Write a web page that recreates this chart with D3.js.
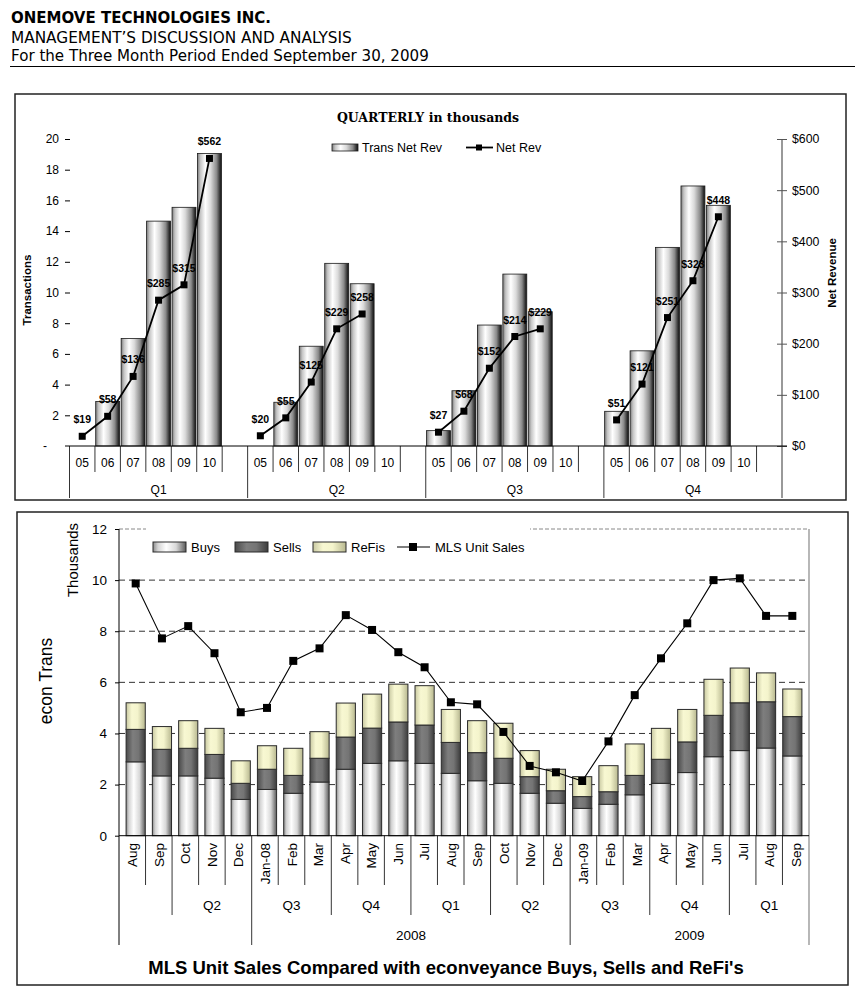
<!DOCTYPE html>
<html>
<head>
<meta charset="utf-8">
<script src="https://cdn.jsdelivr.net/npm/d3@7"></script>
<style>
  body { margin: 0; background: #fff; }
  text { font-family: 'Liberation Sans', Arial, sans-serif; }
</style>
</head>
<body>
<script>
// ---- top chart: quarterly, in thousands ----
const quarters = ['Q1', 'Q2', 'Q3', 'Q4'];
const periods = ['05', '06', '07', '08', '09', '10', ''];
const transByQuarter = [
    [0, 2.9, 7.0, 14.65, 15.55, 19.05, null],
    [0, 2.85, 6.5, 11.9, 10.57, null, null],
    [1.0, 3.6, 7.88, 11.2, 8.75, null, null],
    [2.26, 6.2, 12.94, 16.94, 15.68, null, null]
];
const revByQuarter = [
    [19, 58, 136, 285, 315, 562, null],
    [20, 55, 125, 229, 258, null, null],
    [27, 68, 152, 214, 229, null, null],
    [51, 121, 251, 323, 448, null, null]
];
const transTicks = [0, 2, 4, 6, 8, 10, 12, 14, 16, 18, 20];
const revTicks = [0, 100, 200, 300, 400, 500, 600];

// ---- bottom chart: monthly, thousands ----
const months = ['Aug', 'Sep', 'Oct', 'Nov', 'Dec', 'Jan-08', 'Feb', 'Mar', 'Apr', 'May', 'Jun', 'Jul',
    'Aug', 'Sep', 'Oct', 'Nov', 'Dec', 'Jan-09', 'Feb', 'Mar', 'Apr', 'May', 'Jun', 'Jul', 'Aug', 'Sep'];
const buys = [2.89, 2.34, 2.34, 2.25, 1.42, 1.81, 1.66, 2.10, 2.60, 2.83, 2.93, 2.83,
    2.44, 2.15, 2.05, 1.66, 1.27, 1.07, 1.23, 1.60, 2.05, 2.47, 3.09, 3.33, 3.43, 3.12];
const sells = [1.27, 1.04, 1.08, 0.93, 0.63, 0.79, 0.70, 0.93, 1.26, 1.38, 1.52, 1.50,
    1.21, 1.10, 0.98, 0.65, 0.49, 0.46, 0.49, 0.76, 0.94, 1.20, 1.62, 1.87, 1.81, 1.54];
const refis = [1.04, 0.89, 1.08, 1.02, 0.88, 0.92, 1.06, 1.04, 1.33, 1.33, 1.48, 1.54,
    1.29, 1.25, 1.37, 1.02, 0.84, 0.78, 1.02, 1.23, 1.21, 1.27, 1.41, 1.36, 1.13, 1.08];
const mlsSales = [9.87, 7.72, 8.2, 7.14, 4.83, 5.0, 6.84, 7.33, 8.63, 8.05, 7.18, 6.59,
    5.22, 5.14, 4.06, 2.73, 2.48, 2.14, 3.69, 5.5, 6.94, 8.31, 10.0, 10.07, 8.6, 8.6];
const quarterGroups = [['', 2], ['Q2', 3], ['Q3', 3], ['Q4', 3], ['Q1', 3], ['Q2', 3], ['Q3', 3], ['Q4', 3], ['Q1', 3]];
const yearGroups = [['', 5], ['2008', 12], ['2009', 9]];
const monthTicks = [0, 2, 4, 6, 8, 10, 12];

const svg = d3.select('body').append('svg')
    .attr('width', 863)
    .attr('height', 999);

const defs = svg.append('defs');

function gradient(id, stops) {
    let g = defs.append('linearGradient').attr('id', id)
        .attr('x1', 0).attr('x2', 1).attr('y1', 0).attr('y2', 0);
    stops.forEach(s => g.append('stop').attr('offset', s[0]).attr('stop-color', s[1]));
}

gradient('cyl', [[0, '#7a7a7a'], [0.12, '#c4c4c4'], [0.33, '#ffffff'], [0.55, '#dadada'],
    [0.8, '#8a8a8a'], [0.95, '#2a2a2a'], [1, '#1a1a1a']]);
gradient('buys', [[0, '#8c8c8c'], [0.15, '#d4d4d4'], [0.4, '#ffffff'], [0.7, '#d8d8d8'], [1, '#5a5a5a']]);
gradient('sells', [[0, '#4a4a4a'], [0.35, '#7e7e7e'], [0.65, '#747474'], [1, '#3c3c3c']]);
gradient('refis', [[0, '#c9c9a2'], [0.3, '#f8f8d2'], [0.6, '#f4f4cc'], [1, '#b8b890']]);

// ---- header ----
const verdana = "'DejaVu Sans', Verdana, sans-serif";
const head = svg.append('g');
head.append('text').attr('x', 11).attr('y', 23).attr('font-size', 15).attr('font-weight', 'bold')
    .style('font-family', verdana).text('ONEMOVE TECHNOLOGIES INC.');
head.append('text').attr('x', 11).attr('y', 43).attr('font-size', 15.3)
    .style('font-family', verdana).text('MANAGEMENT\u2019S DISCUSSION AND ANALYSIS');
head.append('text').attr('x', 11).attr('y', 61).attr('font-size', 15.1)
    .style('font-family', verdana).text('For the Three Month Period Ended September 30, 2009');
head.append('line').attr('x1', 10).attr('x2', 855).attr('y1', 66.5).attr('y2', 66.5)
    .attr('stroke', '#000').attr('stroke-width', 1.2);

// panel frames
svg.append('rect').attr('x', 15).attr('y', 94).attr('width', 831).attr('height', 406)
    .attr('fill', 'none').attr('stroke', '#222').attr('stroke-width', 1.5);
svg.append('rect').attr('x', 17).attr('y', 512).attr('width', 831).attr('height', 473)
    .attr('fill', 'none').attr('stroke', '#222').attr('stroke-width', 1.5);

// =============== top chart ===============
let topData = [];
quarters.forEach((q, qi) => periods.forEach((p, pi) => {
    topData.push({ key: q + p + pi, q: q, p: p, trans: transByQuarter[qi][pi], rev: revByQuarter[qi][pi] });
}));

const xT = d3.scaleBand().domain(topData.map(d => d.key)).range([69.5, 782]).paddingInner(0.06).paddingOuter(0.03);
const yT = d3.scaleLinear().domain([0, 20]).range([446, 139]);
const yR = d3.scaleLinear().domain([0, 600]).range([446, 139]);
const slot = (782 - 69.5) / topData.length;
const slotX = i => 69.5 + i * slot;

const topG = svg.append('g');

topG.selectAll('rect.bar')
    .data(topData.filter(d => d.trans))
    .enter().append('rect')
    .attr('class', 'bar')
    .attr('x', d => xT(d.key))
    .attr('y', d => yT(d.trans))
    .attr('width', xT.bandwidth())
    .attr('height', d => yT(0) - yT(d.trans))
    .attr('fill', 'url(#cyl)')
    .attr('stroke', '#1a1a1a')
    .attr('stroke-width', 0.8);

// revenue line, one segment per quarter
const revLine = d3.line()
    .x(d => xT(d.key) + xT.bandwidth() / 2)
    .y(d => yR(d.rev));
quarters.forEach(q => {
    let pts = topData.filter(d => d.q == q && d.rev != null);
    topG.append('path').attr('d', revLine(pts))
        .attr('fill', 'none').attr('stroke', '#000').attr('stroke-width', 1.8);
});
let revPts = topData.filter(d => d.rev != null);
topG.selectAll('rect.mk')
    .data(revPts)
    .enter().append('rect')
    .attr('class', 'mk')
    .attr('x', d => xT(d.key) + xT.bandwidth() / 2 - 3.5)
    .attr('y', d => yR(d.rev) - 3.5)
    .attr('width', 7).attr('height', 7)
    .attr('fill', '#000');
topG.selectAll('text.lbl')
    .data(revPts)
    .enter().append('text')
    .attr('class', 'lbl')
    .attr('x', d => xT(d.key) + xT.bandwidth() / 2)
    .attr('y', d => yR(d.rev) - 13)
    .attr('text-anchor', 'middle')
    .attr('font-size', 10.5)
    .attr('font-weight', 'bold')
    .text(d => '$' + d.rev);

// left axis
const axL = topG.append('g').attr('transform', 'translate(70,0)')
    .call(d3.axisLeft(yT).tickValues(transTicks).tickSize(5).tickPadding(6)
        .tickFormat(d => d == 0 ? '-' : d));
axL.select('.domain').remove();
axL.selectAll('text').attr('font-size', 12).attr('fill', '#000')
    .style('font-family', "'Liberation Sans', Arial, sans-serif")
    .attr('dx', d => d == 0 ? -12 : 0);
axL.selectAll('.tick line').filter(d => d == 0).remove();

// right axis
const axR = topG.append('g').attr('transform', 'translate(782,0)')
    .call(d3.axisRight(yR).tickValues(revTicks).tickSize(5).tickPadding(5).tickFormat(d => '$' + d));
axR.select('.domain').remove();
axR.selectAll('.tick line').attr('x1', -5).attr('stroke', '#555');
axR.selectAll('text').attr('font-size', 12.3).attr('fill', '#000')
    .style('font-family', "'Liberation Sans', Arial, sans-serif");
topG.append('line').attr('x1', 782).attr('x2', 782).attr('y1', yR(600)).attr('y2', 498)
    .attr('stroke', '#555').attr('stroke-width', 1.2);

// category axis
topG.append('line').attr('x1', 65).attr('x2', 787).attr('y1', 446).attr('y2', 446)
    .attr('stroke', '#000').attr('stroke-width', 1);
topData.forEach((d, i) => {
    let groupEdge = i % periods.length == 0;
    topG.append('line')
        .attr('x1', slotX(i)).attr('x2', slotX(i))
        .attr('y1', 446).attr('y2', groupEdge ? 498 : 472)
        .attr('stroke', '#000').attr('stroke-width', 0.8);
});
topG.selectAll('text.per')
    .data(topData)
    .enter().append('text')
    .attr('class', 'per')
    .attr('x', (d, i) => slotX(i) + slot / 2)
    .attr('y', 467)
    .attr('text-anchor', 'middle')
    .attr('font-size', 12)
    .text(d => d.p);
topG.selectAll('text.qtr')
    .data(quarters)
    .enter().append('text')
    .attr('class', 'qtr')
    .attr('x', (d, i) => slotX(i * periods.length) + slot * periods.length / 2)
    .attr('y', 494)
    .attr('text-anchor', 'middle')
    .attr('font-size', 12)
    .text(d => d);

// titles
topG.append('text').attr('x', 428).attr('y', 122).attr('text-anchor', 'middle')
    .attr('font-size', 12.5).attr('font-weight', 'bold')
    .style('font-family', "'DejaVu Serif', serif")
    .text('QUARTERLY in thousands');
topG.append('text').attr('transform', 'translate(31,290) rotate(-90)').attr('text-anchor', 'middle')
    .attr('font-size', 11.5).attr('font-weight', 'bold').text('Transactions');
topG.append('text').attr('transform', 'translate(836,273) rotate(-90)').attr('text-anchor', 'middle')
    .attr('font-size', 11.5).attr('font-weight', 'bold').text('Net Revenue');

// legend
topG.append('rect').attr('x', 332).attr('y', 144).attr('width', 26).attr('height', 7)
    .attr('fill', 'url(#cyl)').attr('stroke', '#1a1a1a').attr('stroke-width', 0.8);
topG.append('text').attr('x', 362).attr('y', 152).attr('font-size', 12.5).text('Trans Net Rev');
topG.append('line').attr('x1', 466).attr('x2', 493).attr('y1', 147.5).attr('y2', 147.5)
    .attr('stroke', '#000').attr('stroke-width', 1.8);
topG.append('rect').attr('x', 476).attr('y', 144.5).attr('width', 6).attr('height', 6).attr('fill', '#000');
topG.append('text').attr('x', 496).attr('y', 152).attr('font-size', 12.5).text('Net Rev');

// =============== bottom chart ===============
const bot = svg.append('g');
const x0 = 119, x1 = 809;
const xB = d3.scaleBand().domain(d3.range(months.length)).range([x0, x1]).padding(0.27);
const yB = d3.scaleLinear().domain([0, 12]).range([835.7, 529]);
const mSlot = (x1 - x0) / months.length;
const mX = i => x0 + i * mSlot;

// plot border (top dashed, right solid gray)
bot.append('line').attr('x1', x0).attr('x2', x1).attr('y1', yB(12)).attr('y2', yB(12))
    .attr('stroke', '#888').attr('stroke-dasharray', '4,2');
bot.append('line').attr('x1', x1).attr('x2', x1).attr('y1', yB(12)).attr('y2', 945)
    .attr('stroke', '#888').attr('stroke-width', 1.2);

// gridlines
bot.selectAll('line.grid')
    .data(monthTicks.filter(t => t > 0 && t < 12))
    .enter().append('line')
    .attr('class', 'grid')
    .attr('x1', x0).attr('x2', x1)
    .attr('y1', d => yB(d)).attr('y2', d => yB(d))
    .attr('stroke', '#333').attr('stroke-width', 1).attr('stroke-dasharray', '6,4');

// stacked bars
let stackRows = months.map((m, i) => ({ i: i, buys: buys[i], sells: sells[i], refis: refis[i] }));
const series = d3.stack().keys(['buys', 'sells', 'refis'])(stackRows);
bot.selectAll('g.series')
    .data(series)
    .enter().append('g')
    .attr('class', 'series')
    .attr('fill', d => 'url(#' + d.key + ')')
    .selectAll('rect')
    .data(d => d)
    .enter().append('rect')
    .attr('x', d => xB(d.data.i))
    .attr('y', d => yB(d[1]))
    .attr('width', xB.bandwidth())
    .attr('height', d => yB(d[0]) - yB(d[1]))
    .attr('stroke', '#2a2a2a')
    .attr('stroke-width', 1);

// MLS line
const mlsLine = d3.line()
    .x((d, i) => xB(i) + xB.bandwidth() / 2)
    .y(d => yB(d));
bot.append('path').attr('d', mlsLine(mlsSales))
    .attr('fill', 'none').attr('stroke', '#000').attr('stroke-width', 1.1);
bot.selectAll('rect.mls')
    .data(mlsSales)
    .enter().append('rect')
    .attr('class', 'mls')
    .attr('x', (d, i) => xB(i) + xB.bandwidth() / 2 - 4)
    .attr('y', d => yB(d) - 4)
    .attr('width', 8).attr('height', 8)
    .attr('fill', '#000');

// left axis
const axB = bot.append('g').attr('transform', 'translate(' + x0 + ',0)')
    .call(d3.axisLeft(yB).tickValues(monthTicks).tickSize(4).tickPadding(8));
axB.select('.domain').remove();
axB.selectAll('text').attr('font-size', 13.5).attr('fill', '#000')
    .style('font-family', "'Liberation Sans', Arial, sans-serif");
bot.append('line').attr('x1', x0).attr('x2', x0).attr('y1', yB(12)).attr('y2', 945)
    .attr('stroke', '#000').attr('stroke-width', 1);
bot.append('line').attr('x1', x0).attr('x2', x1).attr('y1', yB(0)).attr('y2', yB(0))
    .attr('stroke', '#000').attr('stroke-width', 1);

// month labels
bot.selectAll('text.mon')
    .data(months)
    .enter().append('text')
    .attr('class', 'mon')
    .attr('transform', (d, i) => 'translate(' + (mX(i) + mSlot / 2 + 5) + ',843) rotate(-90)')
    .attr('text-anchor', 'end')
    .attr('font-size', 13.5)
    .text(d => d);

// divider lines for months, quarters, years
let qEdges = [], yEdges = [];
let acc = 0;
quarterGroups.forEach(g => { acc += g[1]; qEdges.push(acc); });
acc = 0;
yearGroups.forEach(g => { acc += g[1]; yEdges.push(acc); });
for (let i = 1; i < months.length; ++i) {
    let bottom = yEdges.includes(i) ? 945 : (qEdges.includes(i) ? 915 : 885);
    bot.append('line').attr('x1', mX(i)).attr('x2', mX(i))
        .attr('y1', yB(0)).attr('y2', bottom)
        .attr('stroke', '#000').attr('stroke-width', 0.8);
}

acc = 0;
quarterGroups.forEach(g => {
    bot.append('text').attr('x', mX(acc) + g[1] * mSlot / 2).attr('y', 910)
        .attr('text-anchor', 'middle').attr('font-size', 13.5).text(g[0]);
    acc += g[1];
});
acc = 0;
yearGroups.forEach(g => {
    bot.append('text').attr('x', mX(acc) + g[1] * mSlot / 2).attr('y', 940)
        .attr('text-anchor', 'middle').attr('font-size', 13.5).text(g[0]);
    acc += g[1];
});

// axis titles
bot.append('text').attr('transform', 'translate(78,560) rotate(-90)').attr('text-anchor', 'middle')
    .attr('font-size', 15).text('Thousands');
bot.append('text').attr('transform', 'translate(52,681) rotate(-90)').attr('text-anchor', 'middle')
    .attr('font-size', 17.5).text('econ Trans');

// legend (white box hides the top border)
bot.append('rect').attr('x', 146).attr('y', 527).attr('width', 384).attr('height', 36).attr('fill', '#fff');
const legItems = [['buys', 'Buys', 153], ['sells', 'Sells', 235], ['refis', 'ReFis', 313]];
legItems.forEach(l => {
    bot.append('rect').attr('x', l[2]).attr('y', 542).attr('width', 33).attr('height', 10)
        .attr('fill', 'url(#' + l[0] + ')').attr('stroke', '#2a2a2a').attr('stroke-width', 1);
    bot.append('text').attr('x', l[2] + 38).attr('y', 552).attr('font-size', 13).text(l[1]);
});
bot.append('line').attr('x1', 397).attr('x2', 430).attr('y1', 547).attr('y2', 547)
    .attr('stroke', '#000').attr('stroke-width', 1.1);
bot.append('rect').attr('x', 409).attr('y', 543).attr('width', 8).attr('height', 8).attr('fill', '#000');
bot.append('text').attr('x', 435).attr('y', 552).attr('font-size', 13).text('MLS Unit Sales');

// title
bot.append('text').attr('x', 446).attr('y', 974).attr('text-anchor', 'middle')
    .attr('font-size', 18.5).attr('font-weight', 'bold')
    .text("MLS Unit Sales Compared with econveyance Buys, Sells and ReFi's");
</script>
</body>
</html>
